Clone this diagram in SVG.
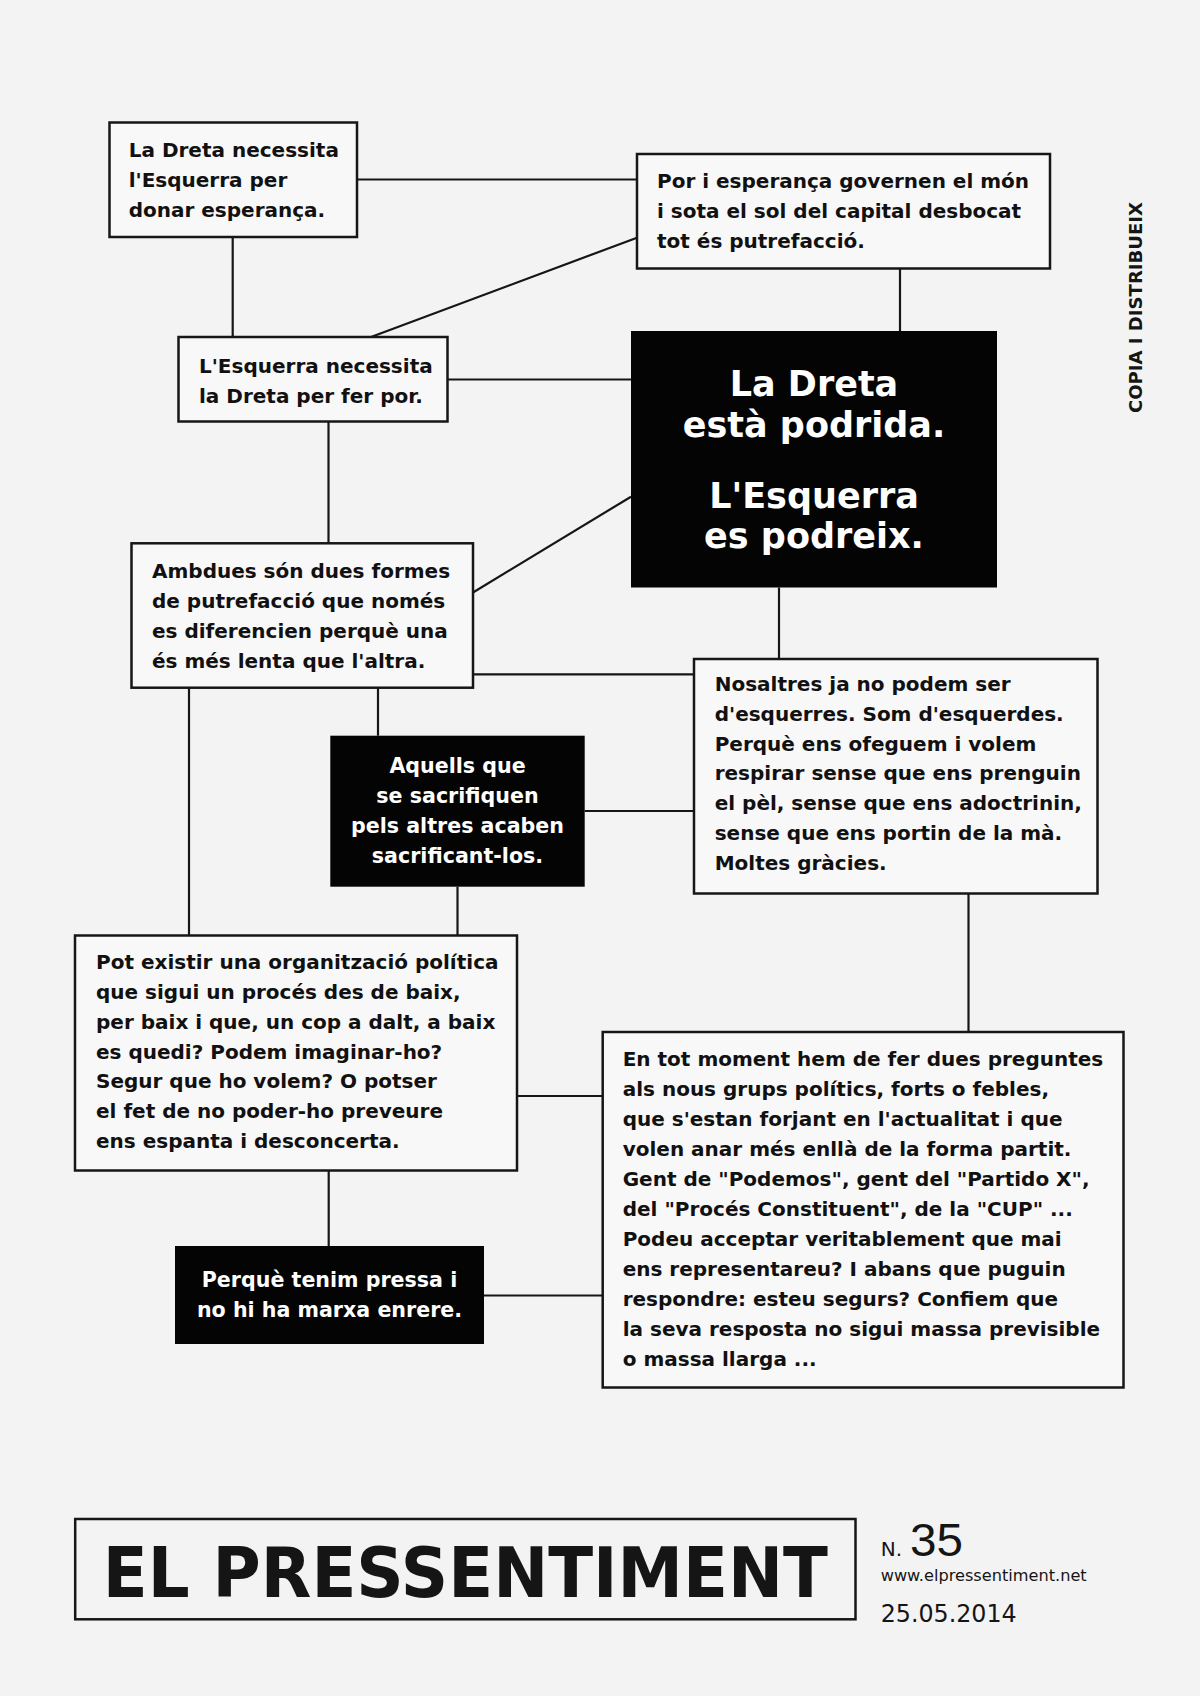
<svg xmlns="http://www.w3.org/2000/svg" width="1200" height="1696" viewBox="0 0 1200 1696">
<style>
.box{fill:#f8f8f8;stroke:#161616;stroke-width:2.5}
.blk{fill:#040404}
.t{font-family:"DejaVu Sans",Verdana,sans-serif;font-weight:bold;font-size:20px;fill:#111}
.w{fill:#fff;text-anchor:middle;font-size:20.6px}
.big{font-size:35px}
.conn line{stroke:#161616;stroke-width:2.2}
.ft{font-family:"DejaVu Sans",Verdana,sans-serif;fill:#151515}
</style>
<rect x="0" y="0" width="1200" height="1696" fill="#f3f3f3"/>

<g id="connectors" class="conn">
<line x1="357" y1="179.5" x2="637" y2="179.5"/>
<line x1="232.7" y1="237" x2="232.7" y2="337"/>
<line x1="637" y1="237.7" x2="371" y2="337"/>
<line x1="900" y1="268.5" x2="900" y2="331"/>
<line x1="447.5" y1="379.5" x2="631" y2="379.5"/>
<line x1="328.5" y1="421.5" x2="328.5" y2="543.3"/>
<line x1="631" y1="496.7" x2="473" y2="592.5"/>
<line x1="779" y1="587.5" x2="779" y2="659"/>
<line x1="473" y1="674.3" x2="694" y2="674.3"/>
<line x1="378" y1="687.7" x2="378" y2="735.7"/>
<line x1="189" y1="687.7" x2="189" y2="935.5"/>
<line x1="584.7" y1="811" x2="694" y2="811"/>
<line x1="457.5" y1="886.7" x2="457.5" y2="935.5"/>
<line x1="968.5" y1="893.5" x2="968.5" y2="1032"/>
<line x1="517" y1="1096" x2="602.7" y2="1096"/>
<line x1="328.7" y1="1170.5" x2="328.7" y2="1246"/>
<line x1="484" y1="1295.5" x2="602.7" y2="1295.5"/>
</g>

<g id="nodeA">
<rect class="box" x="109.5" y="122.5" width="247.5" height="114.5"/>
<text class="t"><tspan x="128.7" y="157">La Dreta necessita</tspan><tspan x="128.7" y="187">l'Esquerra per</tspan><tspan x="128.7" y="217">donar esperança.</tspan></text>
</g>

<g id="nodeB">
<rect class="box" x="637" y="154" width="413" height="114.5"/>
<text class="t"><tspan x="657" y="188">Por i esperança governen el món</tspan><tspan x="657" y="218">i sota el sol del capital desbocat</tspan><tspan x="657" y="248">tot és putrefacció.</tspan></text>
</g>

<g id="nodeC">
<rect class="box" x="178.5" y="337" width="269" height="84.5"/>
<text class="t"><tspan x="199" y="372.5">L'Esquerra necessita</tspan><tspan x="199" y="402.5">la Dreta per fer por.</tspan></text>
</g>

<g id="nodeD">
<rect class="blk" x="631" y="331" width="366" height="256.5"/>
<text class="t w big"><tspan x="814" y="396">La Dreta</tspan><tspan x="814" y="437">està podrida.</tspan><tspan x="814" y="507.5">L'Esquerra</tspan><tspan x="814" y="548">es podreix.</tspan></text>
</g>

<g id="nodeE">
<rect class="box" x="131.5" y="543.3" width="341.5" height="144.4"/>
<text class="t"><tspan x="152" y="578.3">Ambdues són dues formes</tspan><tspan x="152" y="608.3">de putrefacció que només</tspan><tspan x="152" y="638.3">es diferencien perquè una</tspan><tspan x="152" y="668.3">és més lenta que l'altra.</tspan></text>
</g>

<g id="nodeF">
<rect class="box" x="694" y="659" width="403.5" height="234.5"/>
<text class="t"><tspan x="714.7" y="690.7">Nosaltres ja no podem ser</tspan><tspan x="714.7" y="720.6">d'esquerres. Som d'esquerdes.</tspan><tspan x="714.7" y="750.5">Perquè ens ofeguem i volem</tspan><tspan x="714.7" y="780.4">respirar sense que ens prenguin</tspan><tspan x="714.7" y="810.3">el pèl, sense que ens adoctrinin,</tspan><tspan x="714.7" y="840.2">sense que ens portin de la mà.</tspan><tspan x="714.7" y="870.1">Moltes gràcies.</tspan></text>
</g>

<g id="nodeG">
<rect class="blk" x="330.3" y="735.7" width="254.4" height="151"/>
<text class="t w"><tspan x="457.5" y="773.3">Aquells que</tspan><tspan x="457.5" y="803.3">se sacrifiquen</tspan><tspan x="457.5" y="833.3">pels altres acaben</tspan><tspan x="457.5" y="863.3">sacrificant-los.</tspan></text>
</g>

<g id="nodeH">
<rect class="box" x="75" y="935.5" width="442" height="235"/>
<text class="t"><tspan x="96" y="969.3">Pot existir una organització política</tspan><tspan x="96" y="999">que sigui un procés des de baix,</tspan><tspan x="96" y="1028.8">per baix i que, un cop a dalt, a baix</tspan><tspan x="96" y="1058.5">es quedi? Podem imaginar-ho?</tspan><tspan x="96" y="1088.3">Segur que ho volem? O potser</tspan><tspan x="96" y="1118">el fet de no poder-ho preveure</tspan><tspan x="96" y="1147.8">ens espanta i desconcerta.</tspan></text>
</g>

<g id="nodeI">
<rect class="box" x="602.7" y="1032" width="520.8" height="355.5"/>
<text class="t"><tspan x="622.7" y="1066.3">En tot moment hem de fer dues preguntes</tspan><tspan x="622.7" y="1096.3">als nous grups polítics, forts o febles,</tspan><tspan x="622.7" y="1126.3">que s'estan forjant en l'actualitat i que</tspan><tspan x="622.7" y="1156.3">volen anar més enllà de la forma partit.</tspan><tspan x="622.7" y="1186.3">Gent de "Podemos", gent del "Partido X",</tspan><tspan x="622.7" y="1216.3">del "Procés Constituent", de la "CUP" ...</tspan><tspan x="622.7" y="1246.3">Podeu acceptar veritablement que mai</tspan><tspan x="622.7" y="1276.3">ens representareu? I abans que puguin</tspan><tspan x="622.7" y="1306.3">respondre: esteu segurs? Confiem que</tspan><tspan x="622.7" y="1336.3">la seva resposta no sigui massa previsible</tspan><tspan x="622.7" y="1366.3">o massa llarga ...</tspan></text>
</g>

<g id="nodeJ">
<rect class="blk" x="175" y="1246" width="309" height="98"/>
<text class="t w"><tspan x="329.5" y="1287">Perquè tenim pressa i</tspan><tspan x="329.5" y="1317">no hi ha marxa enrere.</tspan></text>
</g>

<g id="side">
<text class="ft" font-weight="bold" font-size="18" textLength="211" lengthAdjust="spacingAndGlyphs" transform="translate(1142,413) rotate(-90)" x="0" y="0">COPIA I DISTRIBUEIX</text>
</g>

<g id="footer">
<rect x="75.2" y="1519" width="780.3" height="100.3" fill="none" stroke="#161616" stroke-width="2.5"/>
<text class="ft" font-weight="bold" font-size="68.6" x="102.7" y="1596.5" textLength="725.3" lengthAdjust="spacingAndGlyphs">EL PRESSENTIMENT</text>
<text class="ft" font-size="20" x="880.7" y="1556">N.</text>
<text font-family="'Liberation Sans',Arial,sans-serif" font-size="46" fill="#151515" x="910" y="1556" textLength="53" lengthAdjust="spacingAndGlyphs">35</text>
<text class="ft" font-size="15" x="880.7" y="1581" textLength="206" lengthAdjust="spacingAndGlyphs">www.elpressentiment.net</text>
<text class="ft" font-size="24.5" x="880.7" y="1621.7" textLength="136" lengthAdjust="spacingAndGlyphs">25.05.2014</text>
</g>
</svg>
